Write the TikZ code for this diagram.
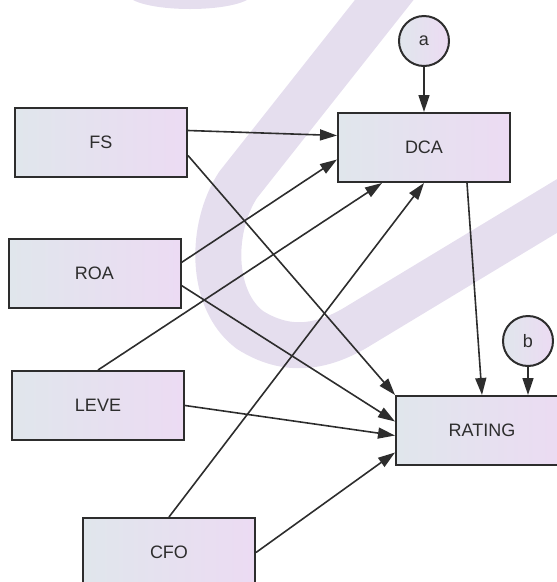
\documentclass[tikz,border=0pt]{standalone}
\usepackage{fontspec}
\setmainfont{Liberation Sans}
\usetikzlibrary{arrows.meta}
\definecolor{wmark}{RGB}{229,222,238}
\definecolor{boxl}{RGB}{224,230,236}
\definecolor{boxr}{RGB}{236,219,243}
\definecolor{ink}{RGB}{45,45,45}

\begin{document}
\begin{tikzpicture}[x=1pt, y=-1pt,
  var/.style = {draw=ink, line width=2pt, left color=boxl, right color=boxr, minimum width=172pt, minimum height=69pt, inner sep=0pt, text=ink, font=\fontsize{18}{21}\selectfont},
  err/.style = {draw=ink, line width=2pt, circle, left color=boxl, right color=boxr, minimum size=50pt, inner sep=0pt, text=ink, font=\fontsize{18}{21}\selectfont},
  link/.style = {draw=ink, line width=1.6pt, -{Triangle[length=17pt, width=11pt]}}]
\useasboundingbox (0,0) rectangle (557,582);
\fill[wmark] (190,-6) ellipse [x radius=62pt, y radius=15pt];
\draw[wmark, line width=46pt] (400,-20) -- (238,185) .. controls (210,228) and (210,300) .. (250,330) .. controls (285,352) and (320,350) .. (360,325) -- (600,180);
\node[err] (a) at (424,41) {a};
\node[err] (b) at (528,341) {b};
\node[var] (FS) at (101,142.5) {FS};
\node[var] (DCA) at (424,147.5) {DCA};
\node[var] (ROA) at (94.5,273.5) {ROA};
\node[var] (LEVE) at (98,405.5) {LEVE};
\node[var] (RATING) at (482,430.5) {RATING};
\node[var] (CFO) at (169,552.5) {CFO};
\draw[link] (a) -- (DCA);
\draw[link] ([yshift=12pt]FS.east) -- ([yshift=12pt]DCA.west);
\draw[link] ([yshift=-13pt]FS.east) -- (RATING.north west);
\draw[link] ([yshift=11pt]ROA.east) -- ([yshift=-12pt]DCA.west);
\draw[link] ([yshift=-12pt]ROA.east) -- ([yshift=9pt]RATING.west);
\draw[link] (LEVE.north) -- ([xshift=-42pt]DCA.south);
\draw[link] (LEVE.east) -- ([yshift=-5pt]RATING.west);
\draw[link] (CFO.north) -- (DCA.south);
\draw[link] (CFO.east) -- ([yshift=-22pt]RATING.west);
\draw[link] ([xshift=43pt]DCA.south) -- (RATING.north);
\draw[link] (b) -- ([xshift=46pt]RATING.north);
\end{tikzpicture}
\end{document}
